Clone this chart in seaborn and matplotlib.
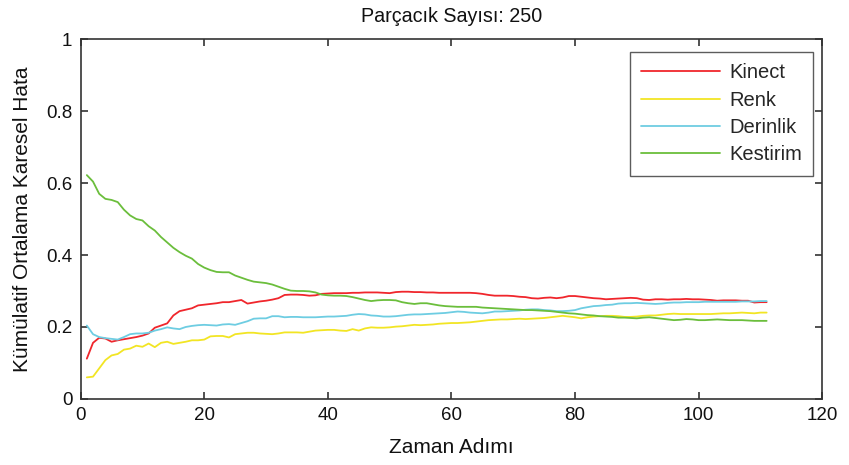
import numpy as np
import pandas as pd
import matplotlib
matplotlib.use("Agg")
import matplotlib.pyplot as plt
import seaborn as sns

# Cumulative mean squared error per time step, 250 particles
kinect = [0.112, 0.156, 0.170, 0.168, 0.159, 0.163, 0.166, 0.169, 0.172, 0.176,
          0.182, 0.198, 0.204, 0.210, 0.232, 0.244, 0.248, 0.252, 0.260, 0.262,
          0.264, 0.266, 0.269, 0.269, 0.272, 0.275, 0.265, 0.268, 0.271, 0.273,
          0.276, 0.280, 0.289, 0.290, 0.290, 0.289, 0.287, 0.288, 0.292, 0.293,
          0.294, 0.294, 0.294, 0.295, 0.295, 0.296, 0.296, 0.296, 0.295, 0.294,
          0.297, 0.298, 0.298, 0.297, 0.297, 0.296, 0.296, 0.295, 0.295, 0.295,
          0.295, 0.295, 0.295, 0.294, 0.292, 0.289, 0.287, 0.287, 0.287, 0.286,
          0.284, 0.283, 0.280, 0.279, 0.281, 0.282, 0.280, 0.282, 0.286, 0.286,
          0.284, 0.282, 0.280, 0.279, 0.277, 0.278, 0.279, 0.280, 0.281, 0.280,
          0.276, 0.275, 0.277, 0.277, 0.276, 0.277, 0.277, 0.278, 0.277, 0.277,
          0.276, 0.275, 0.273, 0.274, 0.274, 0.274, 0.273, 0.273, 0.268, 0.269,
          0.269]
renk = [0.060, 0.062, 0.085, 0.108, 0.121, 0.125, 0.137, 0.140, 0.148, 0.145,
        0.154, 0.144, 0.156, 0.159, 0.153, 0.156, 0.159, 0.163, 0.163, 0.165,
        0.174, 0.175, 0.175, 0.171, 0.180, 0.182, 0.184, 0.184, 0.182, 0.181,
        0.180, 0.182, 0.185, 0.185, 0.185, 0.184, 0.187, 0.190, 0.191, 0.192,
        0.192, 0.190, 0.189, 0.194, 0.190, 0.196, 0.199, 0.198, 0.198, 0.199,
        0.201, 0.202, 0.204, 0.206, 0.205, 0.206, 0.207, 0.209, 0.210, 0.211,
        0.211, 0.212, 0.213, 0.215, 0.217, 0.219, 0.220, 0.221, 0.221, 0.222,
        0.223, 0.222, 0.223, 0.224, 0.225, 0.227, 0.229, 0.231, 0.229, 0.227,
        0.224, 0.227, 0.229, 0.230, 0.231, 0.231, 0.230, 0.228, 0.228, 0.229,
        0.231, 0.232, 0.232, 0.234, 0.236, 0.237, 0.236, 0.236, 0.236, 0.236,
        0.236, 0.236, 0.237, 0.238, 0.238, 0.239, 0.240, 0.239, 0.238, 0.240,
        0.240]
derinlik = [0.204, 0.180, 0.172, 0.169, 0.167, 0.165, 0.172, 0.180, 0.182, 0.182,
            0.184, 0.190, 0.194, 0.199, 0.196, 0.194, 0.200, 0.203, 0.205, 0.206,
            0.205, 0.204, 0.207, 0.208, 0.206, 0.211, 0.216, 0.223, 0.224, 0.224,
            0.230, 0.230, 0.227, 0.228, 0.228, 0.227, 0.227, 0.227, 0.228, 0.229,
            0.229, 0.230, 0.231, 0.234, 0.236, 0.235, 0.232, 0.231, 0.229, 0.229,
            0.230, 0.232, 0.234, 0.235, 0.235, 0.236, 0.237, 0.238, 0.239, 0.241,
            0.243, 0.242, 0.240, 0.239, 0.238, 0.240, 0.243, 0.243, 0.244, 0.245,
            0.246, 0.248, 0.249, 0.249, 0.247, 0.246, 0.244, 0.244, 0.245, 0.247,
            0.252, 0.255, 0.258, 0.259, 0.261, 0.262, 0.265, 0.266, 0.266, 0.267,
            0.266, 0.265, 0.264, 0.265, 0.267, 0.268, 0.268, 0.269, 0.269, 0.269,
            0.270, 0.270, 0.270, 0.270, 0.270, 0.270, 0.271, 0.271, 0.271, 0.272,
            0.272]
kestirim = [0.622, 0.604, 0.570, 0.556, 0.553, 0.547, 0.526, 0.510, 0.500, 0.496,
            0.480, 0.468, 0.450, 0.435, 0.420, 0.408, 0.398, 0.390, 0.375, 0.365,
            0.358, 0.353, 0.352, 0.352, 0.343, 0.337, 0.331, 0.326, 0.324, 0.322,
            0.318, 0.312, 0.306, 0.301, 0.300, 0.300, 0.299, 0.296, 0.290, 0.288,
            0.287, 0.287, 0.286, 0.283, 0.279, 0.275, 0.272, 0.274, 0.275, 0.275,
            0.274, 0.269, 0.266, 0.264, 0.266, 0.266, 0.263, 0.260, 0.258, 0.257,
            0.256, 0.256, 0.256, 0.256, 0.254, 0.253, 0.252, 0.251, 0.250, 0.249,
            0.248, 0.247, 0.247, 0.246, 0.245, 0.244, 0.242, 0.240, 0.238, 0.237,
            0.235, 0.233, 0.232, 0.230, 0.229, 0.228, 0.226, 0.226, 0.225, 0.224,
            0.226, 0.227, 0.225, 0.223, 0.221, 0.219, 0.220, 0.222, 0.221, 0.219,
            0.219, 0.220, 0.221, 0.220, 0.219, 0.219, 0.219, 0.218, 0.217, 0.217,
            0.217]

series_names = ["Kinect", "Renk", "Derinlik", "Kestirim"]
series_values = [kinect, renk, derinlik, kestirim]
colors = ["#F0262C", "#F2E524", "#6ECDE2", "#6BBE3C"]
x_ticks = [0, 20, 40, 60, 80, 100, 120]
y_ticks = [0, 0.2, 0.4, 0.6, 0.8, 1]
y_tick_labels = ["0", "0.2", "0.4", "0.6", "0.8", "1"]

steps = np.arange(1, len(kinect) + 1)
df = pd.concat(
    [pd.DataFrame({"Zaman": steps, "Hata": vals, "Seri": name})
     for name, vals in zip(series_names, series_values)],
    ignore_index=True,
)

sns.set_style("ticks")
plt.rcParams["font.family"] = ["Liberation Sans", "DejaVu Sans"]

fig = plt.figure(figsize=(8.49, 4.65), dpi=100)
ax = fig.add_axes([0.095, 0.142, 0.8735, 0.774])

sns.lineplot(data=df, x="Zaman", y="Hata", hue="Seri", hue_order=series_names,
             palette=colors, linewidth=1.3, ax=ax)

ax.set_xlim(0, 120)
ax.set_ylim(0, 1)
ax.set_xticks(x_ticks)
ax.set_xticklabels([str(t) for t in x_ticks])
ax.set_yticks(y_ticks)
ax.set_yticklabels(y_tick_labels)
ax.tick_params(direction="in", length=5, width=1.2, color="#333333",
               labelsize=13.5, labelcolor="#111111", top=True, right=True, pad=6)
for sp in ax.spines.values():
    sp.set_visible(True)
    sp.set_color("#333333")
    sp.set_linewidth(1.2)

ax.set_xlabel("Zaman Adımı", fontsize=15, color="#111111", labelpad=10)
ax.set_ylabel("Kümülatif Ortalama Karesel Hata", fontsize=15, color="#111111", labelpad=10)
ax.set_title("Parçacık Sayısı: 250", fontsize=14.2, color="#111111", pad=12)

leg = ax.legend(loc="upper right", bbox_to_anchor=(0.9875, 0.964), borderaxespad=0,
                fontsize=14.5, handlelength=3.9, frameon=True, fancybox=False,
                borderpad=0.55, labelspacing=0.42, handletextpad=0.45)
leg.get_frame().set_edgecolor("#333333")
leg.get_frame().set_linewidth(1.0)
leg.set_title(None)

fig.savefig("out.png", dpi=100)
